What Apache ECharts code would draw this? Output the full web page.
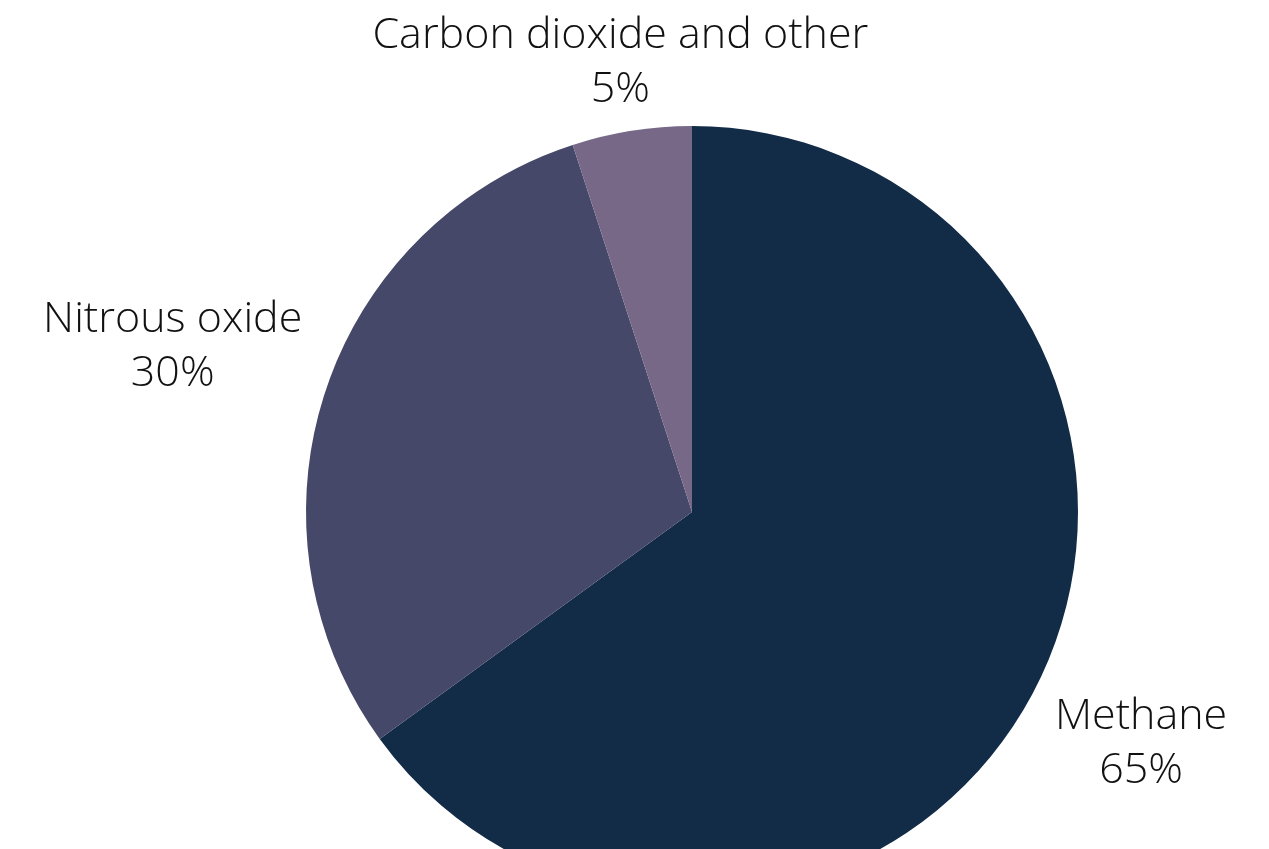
<!DOCTYPE html>
<html>
<head>
<meta charset="utf-8">
<script src="https://cdn.jsdelivr.net/npm/echarts@6/dist/echarts.min.js"></script>
<style>
  html, body { margin: 0; padding: 0; background: #fff; }
  #chart { width: 1269px; height: 849px; }
</style>
</head>
<body>
<div id="chart"></div>
<script>
// 数据
const categories = ['Methane', 'Nitrous oxide', 'Carbon dioxide and other'];
const shares = [65, 30, 5];
const colors = ['#122b47', '#454868', '#786887'];
// 标签离饼图边缘的距离（每块不同，模仿原图）
const labelGaps = [118, 160, 72];

const chart = echarts.init(document.getElementById('chart'), null, { renderer: 'canvas' });

const data = categories.map((name, i) => ({
  name: name,
  value: shares[i],
  itemStyle: { color: colors[i] },
  labelLine: { show: false, length: labelGaps[i], length2: 0 }
}));

const option = {
  backgroundColor: '#ffffff',
  animation: false,
  series: [{
    type: 'pie',
    center: [692, 512],
    radius: 386,
    startAngle: 90,
    clockwise: true,
    avoidLabelOverlap: false,
    silent: true,
    label: {
      show: true,
      position: 'outside',
      distanceToLabelLine: 0,
      formatter: p => p.name + '\n' + p.value + '%',
      fontFamily: 'Open Sans',
      fontWeight: 300,
      fontSize: 43,
      lineHeight: 54,
      color: '#111111',
      align: 'center'
    },
    labelLayout: { align: 'center', verticalAlign: 'middle', dy: 3 },
    data: data
  }]
};

chart.setOption(option);
</script>
</body>
</html>
